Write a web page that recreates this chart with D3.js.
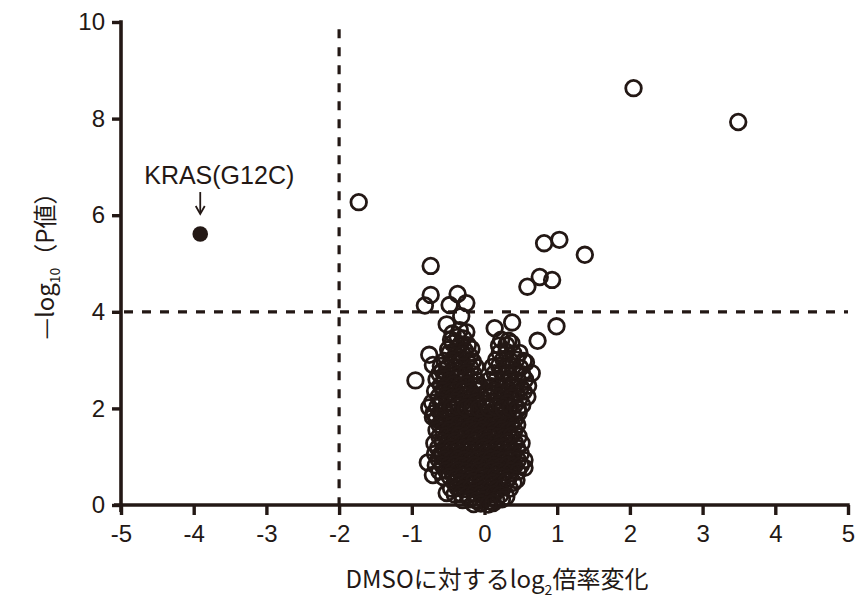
<!DOCTYPE html>
<html><head><meta charset="utf-8">
<script src="https://cdn.jsdelivr.net/npm/d3@7"></script>
<style>body{margin:0;background:#fff}svg{display:block}</style>
</head><body>
<svg id="chart" width="856" height="599"></svg>
<script>
// ---- data: [log2 fold change vs DMSO, -log10 P] ----
const xTicks = [-5,-4,-3,-2,-1,0,1,2,3,4,5];
const yTicks = [0,2,4,6,8,10];
const thresholdX = -2;
const thresholdY = 4;
const krasPoint = [[-3.91, 5.61]];
const krasLabel = "KRAS(G12C)";
const outlierPoints = [
  [2.05,8.63],[3.49,7.93],[-1.73,6.27],[0.82,5.42],[1.03,5.49],[1.38,5.18],
  [0.59,4.52],[0.76,4.72],[0.93,4.66],[-0.74,4.95],[0.38,3.78],[0.73,3.40],
  [0.99,3.70],[-0.95,2.58],[-0.74,4.35],[-0.82,4.13],[-0.37,4.37],[-0.48,4.14],
  [-0.25,4.18],[-0.32,3.91],[-0.52,3.74],[0.14,3.66],[-0.78,0.88],[-0.71,0.62]
];
const leftArmPoints = [
  [-0.34,3.62],[-0.25,3.58],[-0.44,3.55],[-0.37,3.48],[-0.29,3.45],[-0.46,3.42],
  [-0.44,3.35],[-0.23,3.31],[-0.33,3.33],[-0.50,3.22],[-0.38,3.24],[-0.27,3.20],[-0.18,3.23],
  [-0.76,3.11],[-0.48,3.15],[-0.40,3.09],[-0.30,3.12],[-0.20,3.08],
  [-0.55,2.98],[-0.44,2.99],[-0.34,2.96],[-0.24,3.00],[-0.16,2.97],
  [-0.71,2.90],[-0.60,2.88],[-0.50,2.86],[-0.40,2.84],[-0.29,2.87],[-0.19,2.83],[-0.12,2.86],
  [-0.58,2.78],[-0.62,2.72],[-0.52,2.71],[-0.45,2.74],[-0.35,2.70],[-0.25,2.73],[-0.15,2.71],
  [-0.66,2.60],[-0.55,2.62],[-0.47,2.58],[-0.38,2.61],[-0.30,2.59],[-0.20,2.62],[-0.11,2.58],
  [-0.60,2.48],[-0.52,2.46],[-0.42,2.50],[-0.33,2.47],[-0.24,2.49],[-0.14,2.46],[-0.07,2.48],
  [-0.68,2.36],[-0.57,2.37],[-0.48,2.34],[-0.39,2.36],[-0.29,2.38],[-0.19,2.35],[-0.10,2.37],
  [-0.63,2.24],[-0.53,2.25],[-0.44,2.22],[-0.34,2.24],[-0.25,2.26],[-0.15,2.23],[-0.06,2.25],
  [-0.72,2.12],[-0.60,2.13],[-0.49,2.11],[-0.40,2.14],[-0.30,2.12],[-0.21,2.10],[-0.11,2.13],[-0.03,2.11],
  [-0.76,2.02],[-0.65,2.03],[-0.55,2.00],[-0.45,2.02],[-0.36,2.04],[-0.26,2.01],[-0.17,2.03],[-0.08,2.00]
];
const rightArmPoints = [
  [0.23,3.42],[0.33,3.40],[0.30,3.31],[0.37,3.35],[0.20,3.30],
  [0.21,3.15],[0.30,3.17],[0.40,3.13],[0.48,3.15],
  [0.16,3.00],[0.26,3.02],[0.35,2.99],[0.44,3.01],[0.54,2.98],
  [0.11,2.86],[0.20,2.88],[0.30,2.85],[0.39,2.87],[0.49,2.84],[0.57,2.95],
  [0.14,2.73],[0.24,2.75],[0.33,2.72],[0.43,2.74],[0.52,2.71],[0.65,2.73],
  [0.07,2.59],[0.17,2.61],[0.27,2.58],[0.36,2.60],[0.46,2.57],[0.56,2.60],
  [0.10,2.46],[0.20,2.48],[0.30,2.45],[0.40,2.47],[0.50,2.44],[0.60,2.47],
  [0.05,2.34],[0.14,2.36],[0.24,2.33],[0.34,2.35],[0.44,2.32],[0.54,2.35],
  [0.08,2.22],[0.18,2.24],[0.28,2.21],[0.38,2.23],[0.48,2.20],[0.59,2.24],
  [0.03,2.10],[0.12,2.12],[0.22,2.09],[0.32,2.11],[0.42,2.08],[0.52,2.07],
  [0.06,2.00],[0.16,2.02],[0.26,1.99],[0.36,2.01],[0.46,1.98]
];
const corePoints = [
  [-0.70,1.90],[-0.61,1.92],[-0.52,1.89],[-0.43,1.91],[-0.34,1.88],[-0.25,1.92],[-0.16,1.90],[-0.07,1.89],[0.02,1.91],[0.11,1.88],[0.20,1.92],[0.29,1.90],[0.38,1.89],[0.47,1.91],
  [-0.71,1.82],[-0.66,1.78],[-0.57,1.77],[-0.48,1.80],[-0.39,1.78],[-0.30,1.76],[-0.21,1.79],[-0.12,1.77],[-0.03,1.80],[0.06,1.78],[0.15,1.76],[0.24,1.79],[0.33,1.77],[0.42,1.78],
  [-0.62,1.66],[-0.53,1.67],[-0.44,1.65],[-0.35,1.68],[-0.26,1.66],[-0.17,1.64],[-0.08,1.67],[0.01,1.65],[0.10,1.68],[0.19,1.66],[0.28,1.64],[0.37,1.67],[0.45,1.66],
  [-0.66,1.55],[-0.57,1.54],[-0.48,1.56],[-0.39,1.53],[-0.30,1.55],[-0.21,1.57],[-0.12,1.54],[-0.03,1.56],[0.06,1.53],[0.15,1.55],[0.24,1.57],[0.33,1.54],[0.41,1.55],
  [-0.62,1.42],[-0.53,1.43],[-0.44,1.41],[-0.35,1.44],[-0.26,1.42],[-0.17,1.40],[-0.08,1.43],[0.01,1.41],[0.10,1.44],[0.19,1.42],[0.28,1.40],[0.37,1.43],[0.47,1.42],
  [-0.69,1.28],[-0.58,1.31],[-0.49,1.29],[-0.40,1.32],[-0.31,1.30],[-0.22,1.28],[-0.13,1.31],[-0.04,1.29],[0.05,1.32],[0.14,1.30],[0.23,1.28],[0.32,1.31],[0.42,1.29],[0.51,1.28],
  [-0.64,1.18],[-0.55,1.17],[-0.46,1.19],[-0.37,1.16],[-0.28,1.18],[-0.19,1.20],[-0.10,1.17],[-0.01,1.19],[0.08,1.16],[0.17,1.18],[0.26,1.20],[0.35,1.17],[0.45,1.18],
  [-0.68,1.06],[-0.59,1.07],[-0.50,1.05],[-0.41,1.08],[-0.32,1.06],[-0.23,1.04],[-0.14,1.07],[-0.05,1.05],[0.04,1.08],[0.13,1.06],[0.22,1.04],[0.31,1.07],[0.40,1.05],[0.50,1.06],
  [-0.63,0.94],[-0.54,0.95],[-0.45,0.93],[-0.36,0.96],[-0.27,0.94],[-0.18,0.92],[-0.09,0.95],[0.00,0.93],[0.09,0.96],[0.18,0.94],[0.27,0.92],[0.36,0.95],[0.46,0.93],[0.55,0.93],
  [-0.67,0.82],[-0.58,0.83],[-0.49,0.81],[-0.40,0.84],[-0.31,0.82],[-0.22,0.80],[-0.13,0.83],[-0.04,0.81],[0.05,0.84],[0.14,0.82],[0.23,0.80],[0.32,0.83],[0.41,0.81],[0.50,0.82],[0.55,0.77],
  [-0.62,0.70],[-0.53,0.71],[-0.44,0.69],[-0.35,0.72],[-0.26,0.70],[-0.17,0.68],[-0.08,0.71],[0.01,0.69],[0.10,0.72],[0.19,0.70],[0.28,0.68],[0.37,0.71],[0.46,0.69],
  [-0.57,0.58],[-0.48,0.59],[-0.39,0.57],[-0.30,0.60],[-0.21,0.58],[-0.12,0.56],[-0.03,0.59],[0.06,0.57],[0.15,0.60],[0.24,0.58],[0.33,0.56],[0.44,0.52],
  [-0.41,0.45],[-0.33,0.47],[-0.24,0.45],[-0.15,0.48],[-0.06,0.46],[0.03,0.44],[0.12,0.47],[0.21,0.45],[0.30,0.48],[0.40,0.46],
  [-0.46,0.34],[-0.37,0.35],[-0.28,0.33],[-0.19,0.36],[-0.10,0.34],[-0.01,0.32],[0.08,0.35],[0.17,0.33],[0.26,0.36],[0.35,0.34],
  [-0.52,0.25],[-0.41,0.22],[-0.32,0.23],[-0.23,0.21],[-0.14,0.24],[-0.05,0.22],[0.04,0.20],[0.13,0.23],[0.22,0.21],[0.30,0.17],
  [-0.30,0.10],[-0.20,0.12],[-0.11,0.09],[-0.02,0.11],[0.07,0.08],[0.16,0.10],[0.24,0.12],
  [-0.15,0.02],[-0.05,0.03],[0.05,0.01],[0.12,0.04]
];

// ---- drawing ----
const ink = "#231815";
const svg = d3.select("#chart");
const x = d3.scaleLinear().domain([-5, 5]).range([121, 848]);
const y = d3.scaleLinear().domain([0, 10]).range([505, 22]);
const font = "'Liberation Sans', Arial, sans-serif";
const cjk = "'Noto Sans CJK JP', sans-serif";

// threshold lines
svg.append("line")
  .attr("x1", x(thresholdX)).attr("x2", x(thresholdX))
  .attr("y1", y(9.85)).attr("y2", y(0))
  .attr("stroke", ink).attr("stroke-width", 3.2).attr("stroke-dasharray", "9,9");
svg.append("line")
  .attr("x1", x(-5)).attr("x2", x(5))
  .attr("y1", y(thresholdY)).attr("y2", y(thresholdY))
  .attr("stroke", ink).attr("stroke-width", 3.2).attr("stroke-dasharray", "9,9")
  .attr("stroke-dashoffset", -3);

// axes
const xAxis = d3.axisBottom(x).tickValues(xTicks).tickSize(10).tickSizeOuter(0).tickPadding(10);
const yAxis = d3.axisLeft(y).tickValues(yTicks).tickSize(9).tickSizeOuter(0).tickPadding(7);
const gx = svg.append("g").attr("transform", `translate(0,${y(0)})`).call(xAxis);
const gy = svg.append("g").attr("transform", `translate(${x(-5)},0)`).call(yAxis);
[gx, gy].forEach(g => {
  g.select(".domain").remove();
  g.selectAll(".tick line").attr("stroke", ink).attr("stroke-width", 3.4);
  g.selectAll(".tick text").attr("fill", ink).style("font-family", font).style("font-size", "24px");
});
gx.selectAll(".tick text").text(d => d < 0 ? "-" + Math.abs(d) : d);
svg.append("line").attr("x1", x(-5) - 7).attr("x2", x(5) + 1.7).attr("y1", y(0)).attr("y2", y(0))
  .attr("stroke", ink).attr("stroke-width", 3.6);
svg.append("line").attr("x1", x(-5)).attr("x2", x(-5)).attr("y1", y(10) - 1.7).attr("y2", y(0) + 7)
  .attr("stroke", ink).attr("stroke-width", 3.6);

// points
const allOpen = [...corePoints, ...leftArmPoints, ...rightArmPoints, ...outlierPoints];
svg.append("g").selectAll("circle").data(allOpen).join("circle")
  .attr("cx", d => x(d[0])).attr("cy", d => y(d[1])).attr("r", 7.8)
  .attr("fill", "none").attr("stroke", ink).attr("stroke-width", 2.8);
svg.append("g").selectAll("circle").data(krasPoint).join("circle")
  .attr("cx", d => x(d[0])).attr("cy", d => y(d[1])).attr("r", 7.8)
  .attr("fill", ink);

// KRAS annotation
const kp = krasPoint[0];
svg.append("text").attr("x", x(kp[0]) + 19).attr("y", y(kp[1]) - 50)
  .attr("text-anchor", "middle").attr("fill", ink)
  .style("font-family", font).style("font-size", "25px").text(krasLabel);
svg.append("line").attr("x1", x(kp[0])).attr("x2", x(kp[0]))
  .attr("y1", y(kp[1]) - 42).attr("y2", y(kp[1]) - 21)
  .attr("stroke", ink).attr("stroke-width", 1.8);
svg.append("path")
  .attr("d", `M${x(kp[0]) - 4.5},${y(kp[1]) - 28} L${x(kp[0])},${y(kp[1]) - 20} L${x(kp[0]) + 4.5},${y(kp[1]) - 28}`)
  .attr("fill", "none").attr("stroke", ink).attr("stroke-width", 1.8);

// axis titles
const xt = svg.append("text").attr("x", 497).attr("y", 588).attr("text-anchor", "middle")
  .attr("fill", ink).style("font-family", cjk).style("font-size", "24px");
xt.append("tspan").text("DMSOに対するlog");
xt.append("tspan").attr("dy", 7).style("font-size", "14px").text("2");
xt.append("tspan").attr("dy", -7).text("倍率変化");

const yt = svg.append("text").attr("transform", "translate(54,260) rotate(-90)").attr("text-anchor", "middle")
  .attr("fill", ink).style("font-family", cjk).style("font-size", "24px");
yt.append("tspan").text("—log");
yt.append("tspan").attr("dy", 6).style("font-size", "14px").text("10");
yt.append("tspan").attr("dy", -6).text("（P値）");
</script>
</body></html>
